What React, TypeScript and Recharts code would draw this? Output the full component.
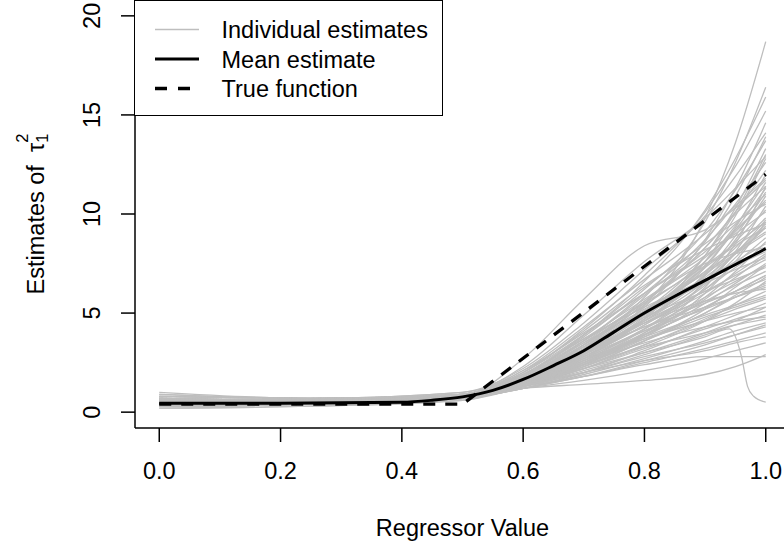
import React from 'react';
import { LineChart, Line, XAxis, YAxis } from 'recharts';

const X_TICKS = [0, 0.2, 0.4, 0.6, 0.8, 1.0];
const Y_TICKS = [0, 5, 10, 15, 20];

// common x positions at which the individual estimates were read
const gridX = [0, 0.25, 0.5, 0.6, 0.7, 0.8, 0.9, 0.95, 1.0];

const individualEstimates: number[][] = [
  [0.5, 0.5, 0.8, 1.6, 3.2, 5.4, 9.8, 13.6, 18.7],
  [0.6, 0.6, 0.9, 1.7, 3.4, 5.8, 9.6, 12.6, 16.4],
  [0.4, 0.5, 0.8, 1.8, 3.9, 6.6, 10.2, 12.8, 15.9],
  [0.7, 0.6, 0.9, 2.0, 4.2, 6.9, 10.1, 12.4, 15.2],
  [0.3, 0.4, 0.7, 1.5, 3.0, 5.3, 8.7, 11.3, 14.6],
  [0.8, 0.7, 1.0, 2.2, 4.5, 7.2, 9.9, 11.9, 14.1],
  [0.5, 0.5, 0.8, 1.9, 3.8, 6.2, 9.1, 11.2, 13.7],
  [0.4, 0.4, 0.7, 1.4, 2.7, 4.7, 7.9, 10.3, 13.3],
  [0.6, 0.6, 0.9, 2.3, 4.9, 7.6, 9.8, 11.3, 12.9],
  [0.9, 0.7, 0.9, 1.8, 3.6, 6.0, 8.7, 10.5, 12.6],
  [0.3, 0.4, 0.8, 1.7, 3.3, 5.5, 8.3, 10.1, 12.2],
  [0.5, 0.5, 0.8, 2.7, 5.7, 8.4, 9.2, 10.3, 11.7],
  [0.6, 0.5, 0.8, 1.6, 3.1, 5.0, 7.6, 9.4, 11.6],
  [0.4, 0.5, 0.7, 1.5, 2.9, 4.8, 7.4, 9.2, 11.3],
  [0.7, 0.6, 0.9, 2.0, 3.9, 6.0, 8.1, 9.5, 11.0],
  [0.5, 0.5, 0.8, 1.7, 3.4, 5.4, 7.6, 9.1, 10.7],
  [0.2, 0.3, 0.6, 1.3, 2.4, 4.0, 6.3, 8.1, 10.4],
  [0.6, 0.6, 0.9, 2.1, 4.0, 6.0, 7.9, 9.0, 10.1],
  [0.5, 0.5, 0.7, 1.5, 2.9, 4.7, 6.9, 8.3, 9.8],
  [0.8, 0.7, 1.0, 1.9, 3.6, 5.5, 7.4, 8.5, 9.6],
  [0.4, 0.4, 0.8, 1.6, 3.1, 4.9, 6.8, 8.0, 9.3],
  [0.5, 0.5, 0.8, 1.8, 3.5, 5.2, 7.0, 8.0, 9.0],
  [0.3, 0.4, 0.7, 1.4, 2.6, 4.2, 6.2, 7.5, 8.8],
  [0.6, 0.6, 0.9, 1.7, 3.2, 4.9, 6.6, 7.6, 8.5],
  [0.7, 0.6, 0.8, 1.5, 2.8, 4.4, 6.2, 7.3, 8.3],
  [0.4, 0.5, 0.8, 1.9, 3.7, 5.3, 6.7, 7.4, 8.1],
  [0.5, 0.5, 0.8, 1.4, 2.5, 3.9, 5.7, 6.8, 7.9],
  [0.6, 0.5, 0.9, 1.6, 3.0, 4.6, 6.1, 6.9, 7.7],
  [0.3, 0.4, 0.7, 1.3, 2.4, 3.8, 5.5, 6.5, 7.5],
  [0.5, 0.6, 0.8, 1.8, 3.3, 4.8, 6.1, 6.7, 7.3],
  [0.8, 0.7, 0.9, 1.5, 2.7, 4.1, 5.6, 6.4, 7.1],
  [0.4, 0.4, 0.7, 1.4, 2.5, 3.9, 5.3, 6.1, 6.9],
  [0.6, 0.6, 0.8, 1.6, 2.9, 4.3, 5.5, 6.1, 6.7],
  [0.5, 0.5, 0.8, 1.3, 2.3, 3.6, 5.0, 5.8, 6.5],
  [0.7, 0.6, 0.9, 1.7, 3.0, 4.3, 5.3, 5.8, 6.3],
  [0.4, 0.5, 0.7, 1.3, 2.2, 3.4, 4.7, 5.4, 6.1],
  [0.5, 0.5, 0.8, 1.5, 2.6, 3.8, 4.9, 5.4, 5.9],
  [0.6, 0.6, 0.8, 1.4, 2.3, 3.4, 4.6, 5.2, 5.7],
  [0.3, 0.4, 0.7, 1.2, 2.0, 3.1, 4.3, 4.9, 5.5],
  [0.5, 0.5, 0.8, 1.6, 2.7, 3.7, 4.6, 5.0, 5.3],
  [0.9, 0.7, 0.9, 1.4, 2.2, 3.2, 4.2, 4.7, 5.1],
  [0.4, 0.5, 0.7, 1.3, 2.0, 2.9, 3.9, 4.4, 4.9],
  [0.6, 0.5, 0.8, 1.5, 2.4, 3.3, 4.0, 4.4, 4.7],
  [0.5, 0.5, 0.7, 1.2, 1.9, 2.7, 3.6, 4.1, 4.5],
  [0.7, 0.6, 0.8, 1.3, 2.0, 2.8, 3.5, 3.9, 4.3],
  [0.4, 0.4, 0.7, 1.2, 1.8, 2.5, 3.2, 3.6, 4.0],
  [0.5, 0.6, 0.9, 1.4, 2.0, 2.6, 3.1, 3.5, 3.8],
  [0.3, 0.4, 0.7, 1.2, 1.6, 2.1, 2.7, 3.1, 3.5],
  [0.6, 0.5, 0.8, 1.3, 1.8, 2.4, 2.8, 2.8, 2.8],
  [0.5, 0.5, 0.7, 1.2, 1.4, 1.6, 1.9, 2.3, 2.9],
  [1.0, 0.7, 0.9, 1.6, 2.9, 4.5, 6.4, 7.8, 9.4],
  [0.2, 0.3, 0.6, 1.5, 3.2, 5.1, 7.1, 8.6, 10.2],
  [0.5, 0.5, 0.8, 1.8, 3.6, 5.9, 8.6, 10.9, 13.9],
  [0.4, 0.5, 0.8, 1.6, 3.0, 4.9, 7.6, 9.9, 12.8],
  [0.6, 0.6, 0.9, 2.1, 4.3, 6.7, 9.0, 10.4, 11.8],
  [0.5, 0.5, 0.7, 1.4, 2.8, 4.6, 7.0, 8.9, 11.1],
  [0.7, 0.6, 0.9, 1.9, 3.7, 5.7, 7.8, 9.2, 10.6],
  [0.4, 0.4, 0.7, 1.5, 2.9, 4.6, 6.6, 8.0, 9.5],
  [0.6, 0.6, 0.8, 1.7, 3.3, 5.1, 7.1, 8.1, 9.1],
  [0.5, 0.5, 0.8, 1.6, 3.0, 4.5, 6.0, 7.0, 8.0],
  [0.3, 0.4, 0.7, 1.4, 2.6, 4.0, 5.8, 7.1, 8.6],
  [0.7, 0.6, 0.9, 1.8, 3.4, 5.1, 6.5, 7.2, 7.8],
  [0.5, 0.5, 0.8, 1.5, 2.7, 4.2, 5.8, 6.6, 7.4],
  [0.4, 0.5, 0.7, 1.3, 2.3, 3.6, 5.2, 6.3, 7.4],
  [0.6, 0.6, 0.9, 1.6, 2.8, 4.1, 5.2, 5.8, 6.4],
  [0.5, 0.5, 0.8, 1.4, 2.4, 3.7, 5.0, 5.9, 6.8],
  [0.8, 0.7, 0.9, 1.7, 3.1, 4.5, 5.6, 6.0, 6.2],
  [0.4, 0.4, 0.7, 1.3, 2.2, 3.3, 4.6, 5.5, 6.6],
  [0.6, 0.5, 0.8, 1.4, 2.4, 3.6, 4.8, 5.3, 5.8],
  [0.5, 0.5, 0.8, 1.3, 2.1, 3.0, 4.0, 4.6, 5.3],
  [0.7, 0.6, 0.9, 1.5, 2.5, 3.5, 4.3, 4.6, 4.8],
  [0.4, 0.5, 0.7, 1.2, 1.8, 2.6, 3.4, 3.9, 4.4],
  [0.5, 0.6, 0.8, 1.6, 3.0, 4.7, 6.9, 8.7, 10.9],
  [0.6, 0.5, 0.8, 1.9, 3.9, 6.3, 8.5, 9.6, 10.5],
  [0.5, 0.5, 0.8, 1.5, 2.8, 4.4, 6.5, 8.0, 9.7],
  [0.3, 0.4, 0.7, 1.5, 3.0, 5.0, 7.3, 8.4, 9.3],
  [0.6, 0.6, 0.9, 1.7, 3.2, 5.0, 7.3, 9.3, 12.0],
  [0.5, 0.5, 0.8, 1.6, 3.1, 5.1, 7.9, 10.1, 13.0],
  [0.4, 0.5, 0.8, 2.0, 4.1, 6.4, 8.2, 8.9, 9.5],
  [0.7, 0.6, 0.9, 1.8, 3.5, 5.6, 7.5, 8.0, 8.3],
  [0.5, 0.5, 0.7, 1.3, 2.4, 3.9, 6.0, 7.6, 9.6],
  [0.6, 0.6, 0.8, 1.5, 2.6, 3.9, 5.3, 6.1, 6.9],
  [0.4, 0.4, 0.7, 1.4, 2.5, 4.2, 6.6, 8.5, 11.4],
  [0.5, 0.5, 0.8, 1.7, 3.4, 5.6, 8.3, 10.0, 11.4],
];

// one estimate that collapses near the right edge
const dropCurveX = [0, 0.25, 0.5, 0.6, 0.7, 0.8, 0.9, 0.94, 0.96, 0.97, 0.98, 1.0];
const dropCurveY = [0.5, 0.5, 0.8, 1.4, 2.2, 3.0, 3.8, 4.2, 2.8, 1.3, 0.8, 0.5];

const meanX = [0, 0.2, 0.4, 0.45, 0.5, 0.55, 0.6, 0.65, 0.7, 0.75, 0.8, 0.85, 0.9, 0.95, 1.0];
const meanY = [0.45, 0.45, 0.5, 0.6, 0.77, 1.1, 1.65, 2.35, 3.1, 4.05, 5.0, 5.85, 6.65, 7.45, 8.25];

const trueX = [0, 0.5, 1.0];
const trueY = [0.4, 0.4, 12];

const LEGEND_LABELS = ['Individual estimates', 'Mean estimate', 'True function'];

const FONT = '"Liberation Sans", Arial, Helvetica, sans-serif';
const FS = 23.5;
const GRAY = '#BEBEBE';

const toPoints = (xs: number[], ys: number[]) => xs.map((x, i) => ({ x, y: ys[i] }));

const graySeries = [
  ...individualEstimates.map((ys) => toPoints(gridX, ys)),
  toPoints(dropCurveX, dropCurveY),
];
const meanSeries = toPoints(meanX, meanY);
const trueSeries = toPoints(trueX, trueY);

const XTick = (props: any) => {
  const { x, payload } = props;
  return (
    <text x={x} y={479} textAnchor="middle" fontFamily={FONT} fontSize={FS} fill="#000">
      {Number(payload.value).toFixed(1)}
    </text>
  );
};

const YTick = (props: any) => {
  const { y, payload } = props;
  const bx = 100;
  return (
    <text
      x={bx}
      y={y}
      transform={`rotate(-90 ${bx} ${y})`}
      textAnchor="middle"
      fontFamily={FONT}
      fontSize={FS}
      fill="#000"
    >
      {String(payload.value)}
    </text>
  );
};

const XTitle = (props: any) => {
  const vb = props.viewBox || { x: 135, width: 655 };
  return (
    <text x={vb.x + vb.width / 2} y={536} textAnchor="middle" fontFamily={FONT} fontSize={FS} fill="#000">
      Regressor Value
    </text>
  );
};

const YTitle = (props: any) => {
  const vb = props.viewBox || { y: 0, height: 428 };
  const cx = 43.5;
  const cy = vb.y + vb.height / 2;
  return (
    <text
      x={cx}
      y={cy}
      transform={`rotate(-90 ${cx} ${cy})`}
      textAnchor="middle"
      fontFamily={FONT}
      fontSize={FS}
      fill="#000"
    >
      {'Estimates of \u00A0\u03C4'}
      <tspan fontSize={16.5} dy={4}>1</tspan>
      <tspan fontSize={16.5} dx={-9.2} dy={-20}>2</tspan>
    </text>
  );
};

const LegendBox = () => {
  const rows = [
    { label: LEGEND_LABELS[0], stroke: GRAY, width: 1.3, dash: undefined as string | undefined },
    { label: LEGEND_LABELS[1], stroke: '#000', width: 3, dash: undefined },
    { label: LEGEND_LABELS[2], stroke: '#000', width: 3.3, dash: '12 11' },
  ];
  const rowY = [30, 59.5, 89];
  return (
    <div
      style={{
        position: 'absolute',
        left: 134,
        top: 0,
        width: 309,
        height: 116,
        boxSizing: 'border-box',
        border: '1.5px solid #000',
        background: '#fff',
      }}
    >
      <svg width={306} height={113} style={{ position: 'absolute', left: 0, top: 0 }}>
        {rows.map((r, i) => (
          <g key={r.label}>
            <line
              x1={20}
              x2={64}
              y1={rowY[i] - 1.5}
              y2={rowY[i] - 1.5}
              stroke={r.stroke}
              strokeWidth={r.width}
              strokeDasharray={r.dash}
            />
            <text x={86.5} y={rowY[i] - 1.5 + 8.5} fontFamily={FONT} fontSize={FS} fill="#000">
              {r.label}
            </text>
          </g>
        ))}
      </svg>
    </div>
  );
};

export default function App() {
  return (
    <div
      style={{
        position: 'absolute',
        left: 0,
        top: 0,
        width: 784,
        height: 546,
        overflow: 'hidden',
        background: '#fff',
      }}
    >
      <LineChart width={800} height={546} margin={{ top: 0, right: 10, bottom: 0, left: 0 }}>
        <XAxis
          dataKey="x"
          type="number"
          domain={[-0.04, 1.04]}
          ticks={X_TICKS}
          allowDataOverflow
          height={118}
          tickSize={14}
          tick={<XTick />}
          axisLine={{ stroke: '#000', strokeWidth: 1.5 }}
          tickLine={{ stroke: '#000', strokeWidth: 1.5 }}
          label={{ content: <XTitle /> } as any}
        />
        <YAxis
          dataKey="y"
          type="number"
          domain={[-0.8, 20.8]}
          ticks={Y_TICKS}
          allowDataOverflow
          width={135}
          tickSize={14}
          tick={<YTick />}
          axisLine={{ stroke: '#000', strokeWidth: 1.5 }}
          tickLine={{ stroke: '#000', strokeWidth: 1.5 }}
          label={{ content: <YTitle /> } as any}
        />
        {graySeries.map((d, i) => (
          <Line
            key={`g${i}`}
            data={d}
            dataKey="y"
            type="monotone"
            stroke={GRAY}
            strokeWidth={1.3}
            dot={false}
            activeDot={false}
            isAnimationActive={false}
            legendType="none"
          />
        ))}
        <Line
          data={meanSeries}
          dataKey="y"
          type="monotone"
          stroke="#000"
          strokeWidth={3}
          dot={false}
          activeDot={false}
          isAnimationActive={false}
        />
        <Line
          data={trueSeries}
          dataKey="y"
          type="linear"
          stroke="#000"
          strokeWidth={3.3}
          strokeDasharray="12 10"
          dot={false}
          activeDot={false}
          isAnimationActive={false}
        />
      </LineChart>
      <LegendBox />
    </div>
  );
}
